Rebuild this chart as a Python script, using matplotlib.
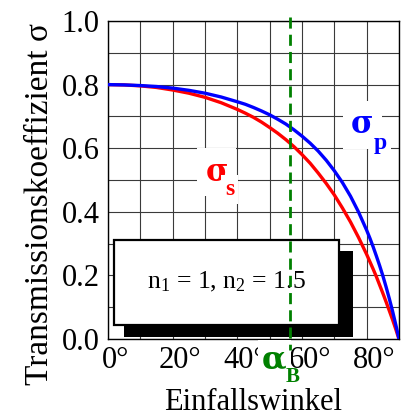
import matplotlib
matplotlib.use('Agg')
import matplotlib.pyplot as plt
import matplotlib.transforms as mtrans
from matplotlib.patches import Rectangle
import numpy as np

plt.rcParams['font.family'] = ['Liberation Serif', 'DejaVu Serif']
plt.rcParams['mathtext.fontset'] = 'custom'
plt.rcParams['mathtext.rm'] = 'Liberation Serif'
plt.rcParams['mathtext.it'] = 'Liberation Serif:italic'
plt.rcParams['mathtext.bf'] = 'Liberation Serif:bold'

# ---- data ----
angles = [0, 5, 10, 15, 20, 25, 30, 35, 40, 42.5, 45, 47.5, 50, 52.5, 55, 57.5, 60,
          62.5, 65, 67.5, 70, 72.5, 75, 77.5, 80, 81, 82, 83, 84, 85, 86, 87, 88, 89, 89.5, 90]
sigma_s = [0.800, 0.799, 0.796, 0.791, 0.783, 0.773, 0.760, 0.743, 0.722,
           0.710, 0.697, 0.682, 0.665, 0.647, 0.627, 0.605, 0.580,
           0.553, 0.522, 0.489, 0.453, 0.412, 0.368, 0.319, 0.266,
           0.243, 0.220, 0.196, 0.170, 0.144, 0.117, 0.089, 0.061, 0.031, 0.015, 0.0]
sigma_p = [0.800, 0.799, 0.797, 0.794, 0.789, 0.782, 0.773, 0.761, 0.746,
           0.738, 0.728, 0.717, 0.705, 0.691, 0.676, 0.658, 0.638,
           0.616, 0.591, 0.562, 0.529, 0.492, 0.449, 0.399, 0.342,
           0.317, 0.290, 0.261, 0.231, 0.199, 0.164, 0.127, 0.088, 0.045, 0.023, 0.0]
brewster_angle = 56.3
x_ticks = [0, 20, 40, 60, 80]
x_tick_labels = ['0°', '20°', '40°', '60°', '80°']
y_ticks = [0.0, 0.2, 0.4, 0.6, 0.8, 1.0]
y_tick_labels = ['0.0', '0.2', '0.4', '0.6', '0.8', '1.0']
box_text = r'n$_1$ = 1, n$_2$ = 1.5'
x_label = 'Einfallswinkel'
y_label = 'Transmissionskoeffizient σ'

fig = plt.figure(figsize=(4.01, 4.17), dpi=100)
ax = fig.add_axes([108 / 401, 78 / 417, 291 / 401, 318 / 417])
ax.set_xlim(0, 90)
ax.set_ylim(0, 1.0)

ax.set_xticks(x_ticks)
ax.set_xticklabels(x_tick_labels, fontsize=22)
ax.set_yticks(y_ticks)
ax.set_yticklabels(y_tick_labels, fontsize=22)
ax.set_xticks(np.arange(0, 91, 10), minor=True)
ax.set_yticks(np.arange(0, 1.01, 0.1), minor=True)
ax.grid(which='both', color='#3a3a3a', lw=0.8)
ax.tick_params(which='both', length=0)
ax.tick_params(axis='x', pad=5)
ax.tick_params(axis='y', pad=6)
for sp in ax.spines.values():
    sp.set_linewidth(1.0)
off = mtrans.ScaledTranslation(7.5 / 100, 0, fig.dpi_scale_trans)
for lab in ax.get_xticklabels():
    lab.set_transform(lab.get_transform() + off)

ax.plot(angles, sigma_s, color='#ff0000', lw=2.4, zorder=3, solid_capstyle='butt')
ax.plot(angles, sigma_p, color='#0000ff', lw=2.4, zorder=3.2, solid_capstyle='butt')

# info box with shadow
ax.add_patch(Rectangle((4.95, 0.006), 70.85, 0.271, fc='black', ec='none', zorder=4))
ax.add_patch(Rectangle((1.86, 0.044), 69.5, 0.267, fc='white', ec='black', lw=1.6, zorder=4.5))
ax.text(36.7, 0.16, box_text, fontsize=18.5, ha='center', va='baseline', zorder=5)

# curve labels
greek = ['DejaVu Serif']
ax.text(33.6, 0.525, 'σ', color='#ff0000', fontsize=22, fontweight='bold', family=greek,
        ha='center', va='center', zorder=3.5, bbox=dict(fc='white', ec='none', pad=6))
ax.text(37.6, 0.47, 's', color='#ff0000', fontsize=17, fontweight='bold',
        ha='center', va='center', zorder=3.6, bbox=dict(fc='white', ec='none', pad=3))
ax.text(78.6, 0.673, 'σ', color='#0000ff', fontsize=22, fontweight='bold', family=greek,
        ha='center', va='center', zorder=3.5, bbox=dict(fc='white', ec='none', pad=6))
ax.text(84.1, 0.615, 'p', color='#0000ff', fontsize=17, fontweight='bold',
        ha='center', va='center', zorder=3.6, bbox=dict(fc='white', ec='none', pad=3))

# Brewster angle
ax.plot([brewster_angle, brewster_angle], [1.013, -0.035], color='#008000', lw=2.0,
        dashes=(4, 2.2), zorder=7, clip_on=False)
ax.text(51.4, -0.065, 'α', color='#008000', fontsize=23, fontweight='bold', family=greek,
        ha='center', va='center', zorder=6, clip_on=False,
        bbox=dict(fc='white', ec='none', pad=3))
ax.text(57.2, -0.118, 'B', color='#008000', fontsize=15, fontweight='bold',
        ha='center', va='center', zorder=6.1, clip_on=False)

fig.text(253.5 / 401, 7 / 417, x_label, fontsize=22, ha='center', va='baseline')
fig.text(40 / 401, 1 - 204 / 417, y_label, fontsize=24, ha='center', va='center', rotation=90)

fig.savefig('out.png', dpi=100)
